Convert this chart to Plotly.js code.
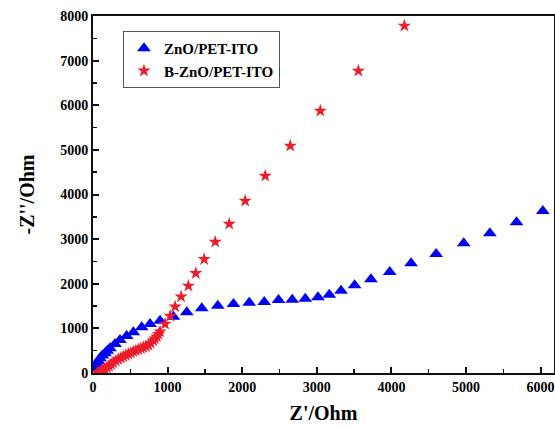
<!DOCTYPE html>
<html>
<head>
<meta charset="utf-8">
<script src="https://cdn.plot.ly/plotly-3.0.1.min.js"></script>
<style>html,body{margin:0;padding:0;background:#fff;}#chart{width:555px;height:429px;}</style>
</head>
<body>
<div id="chart"></div>
<script>
// ZnO/PET-ITO (blue triangles)
const znoX = [17, 30, 50, 70, 94, 125, 161, 190, 228, 295, 362, 451, 541, 653, 765, 899, 1078, 1257, 1458, 1673, 1883, 2094, 2295, 2487, 2671, 2846, 3016, 3168, 3325, 3507, 3726, 3978, 4264, 4600, 4970, 5320, 5678, 6030];
const znoY = [105, 160, 217, 270, 330, 390, 442, 500, 554, 650, 740, 830, 912, 1025, 1099, 1173, 1263, 1360, 1450, 1509, 1547, 1576, 1592, 1637, 1643, 1666, 1697, 1756, 1845, 1964, 2101, 2265, 2459, 2668, 2907, 3132, 3379, 3632];
// B-ZnO/PET-ITO (red stars)
const bznoX = [60, 80, 100, 117, 140, 161, 188, 215, 243, 272, 305, 340, 373, 407, 440, 474, 507, 541, 575, 608, 642, 675, 710, 742, 775, 809, 830, 855, 877, 899, 966, 1034, 1101, 1181, 1279, 1378, 1490, 1638, 1826, 2040, 2309, 2644, 3047, 3557, 4174];
const bznoY = [5, 15, 25, 45, 60, 83, 120, 157, 195, 231, 270, 307, 337, 366, 396, 426, 452, 478, 505, 531, 553, 576, 600, 628, 670, 724, 770, 814, 870, 926, 1099, 1278, 1487, 1711, 1951, 2235, 2549, 2937, 3341, 3857, 4417, 5090, 5874, 6771, 7780];
const xTicks = [0, 1000, 2000, 3000, 4000, 5000, 6000];
const yTicks = [0, 1000, 2000, 3000, 4000, 5000, 6000, 7000, 8000];

const font = {family: '"Liberation Serif", "Times New Roman", serif', color: '#000'};

const traces = [
  {x: znoX, y: znoY, name: 'ZnO/PET-ITO', mode: 'markers', type: 'scatter',
   marker: {symbol: 'triangle-up', size: 12, color: 'rgb(0,0,245)'}},
  {x: bznoX, y: bznoY, name: 'B-ZnO/PET-ITO', mode: 'markers', type: 'scatter',
   marker: {symbol: 'star', size: 10, color: 'rgb(236,28,44)'}}
];

const axisCommon = {
  showgrid: false, zeroline: false, showline: true, linecolor: '#111', linewidth: 2,
  mirror: true, ticks: 'inside', ticklen: 6, tickwidth: 2, tickcolor: '#111',
  tickfont: Object.assign({size: 14, weight: 'bold'}, font),
  minor: {ticks: 'inside', ticklen: 4, tickwidth: 1.5, tickcolor: '#111', dtick: 500}
};

const layout = {
  width: 555, height: 429,
  margin: {l: 93, r: 1, t: 16, b: 56},
  paper_bgcolor: '#fff', plot_bgcolor: '#fff',
  showlegend: true,
  xaxis: Object.assign({}, axisCommon, {
    range: [0, 6180], tickvals: xTicks, ticktext: xTicks.map(String),
    title: {text: "Z'/Ohm", font: Object.assign({size: 20, weight: 'bold'}, font), standoff: 12}
  }),
  yaxis: Object.assign({}, axisCommon, {
    range: [0, 8000], tickvals: yTicks, ticktext: yTicks.map(String),
    title: {text: "-Z''/Ohm", font: Object.assign({size: 20, weight: 'bold'}, font), standoff: 20}
  }),
  legend: {
    x: 0.065, y: 0.958, xanchor: 'left', yanchor: 'top',
    bordercolor: '#555', borderwidth: 1, bgcolor: '#fff',
    font: Object.assign({size: 15, weight: 'bold'}, font),
    itemwidth: 30, tracegroupgap: 0
  }
};

Plotly.newPlot('chart', traces, layout, {displayModeBar: false, staticPlot: true});
</script>
</body>
</html>
